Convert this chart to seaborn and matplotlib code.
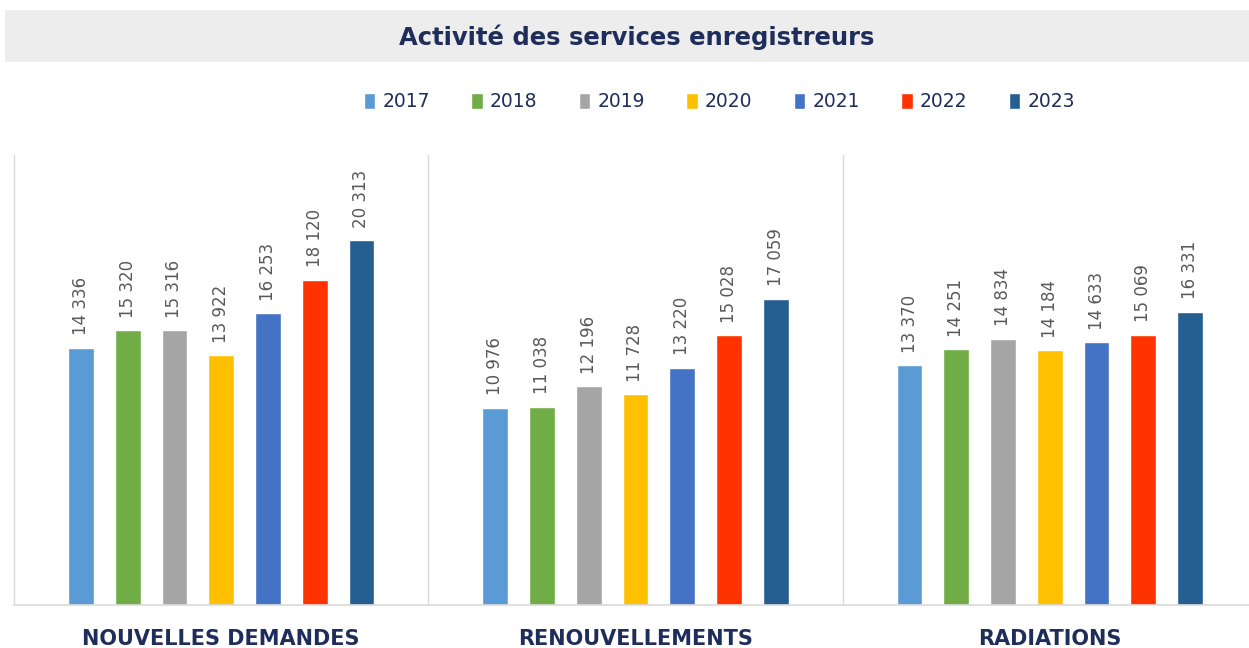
import numpy as np
import pandas as pd
import matplotlib
matplotlib.use("Agg")
import matplotlib.pyplot as plt
from matplotlib.patches import Rectangle
import seaborn as sns

# Data
categories = ["NOUVELLES DEMANDES", "RENOUVELLEMENTS", "RADIATIONS"]
years = ["2017", "2018", "2019", "2020", "2021", "2022", "2023"]
nouvelles = [14336, 15320, 15316, 13922, 16253, 18120, 20313]
renouvellements = [10976, 11038, 12196, 11728, 13220, 15028, 17059]
radiations = [13370, 14251, 14834, 14184, 14633, 15069, 16331]

colors = ["#5B9BD5", "#70AD47", "#A5A5A5", "#FFC000", "#4472C4", "#FF3300", "#255E91"]
navy = "#1F2D5A"
label_gray = "#595959"

rows = []
for cat, vals in zip(categories, [nouvelles, renouvellements, radiations]):
    for yr, v in zip(years, vals):
        rows.append({"categorie": cat, "annee": yr, "valeur": v})
df = pd.DataFrame(rows)

sns.set_style("white")
plt.rcParams["font.family"] = ["DejaVu Sans"]

fig = plt.figure(figsize=(12.49, 6.48), dpi=100)
ax = fig.add_axes([14 / 1249, 43 / 648, 1243 / 1249, 450 / 648])

sns.barplot(data=df, x="categorie", y="valeur", hue="annee", order=categories,
            hue_order=years, palette=colors, width=0.79, gap=0.45,
            saturation=1, legend=True, ax=ax)

for cont in ax.containers:
    ax.bar_label(cont, labels=[f"{int(b.get_height()):,}".replace(",", " ") for b in cont],
                 rotation=90, padding=9, fontsize=12, color=label_gray)

ax.set_xlim(-0.5, 2.5)
ax.set_ylim(0, 25070)
ax.set_yticks([])
ax.set_xlabel("")
ax.set_ylabel("")
for s in ["top", "right", "left"]:
    ax.spines[s].set_visible(False)
ax.spines["bottom"].set_color("#D9D9D9")
ax.spines["bottom"].set_linewidth(1.2)

# panel separators
for xs in [-0.5, 0.5, 1.5]:
    ax.axvline(xs, color="#D9D9D9", lw=1, clip_on=False)

ax.tick_params(axis="x", length=0, pad=17)
for t in ax.get_xticklabels():
    t.set_fontsize(15)
    t.set_fontweight("bold")
    t.set_color(navy)

# legend
handles, lbls = ax.get_legend_handles_labels()
ax.legend_.remove()
leg = fig.legend(handles, lbls, loc="center", bbox_to_anchor=(0.576, 0.843), ncol=7,
                 frameon=False, fontsize=13.5, handlelength=0.6, handleheight=0.9,
                 handletextpad=0.4, columnspacing=2.2)
for t in leg.get_texts():
    t.set_color(navy)

# title band
fig.patches.append(Rectangle((5 / 1249, 1 - 62 / 648), 1 - 5 / 1249, 52 / 648,
                             transform=fig.transFigure, facecolor="#EDEDED",
                             edgecolor="none", zorder=0))
fig.text(0.51, 1 - 37 / 648, "Activité des services enregistreurs", ha="center",
         va="center", fontsize=17.5, fontweight="bold", color=navy)

fig.savefig("out.png", dpi=100)
